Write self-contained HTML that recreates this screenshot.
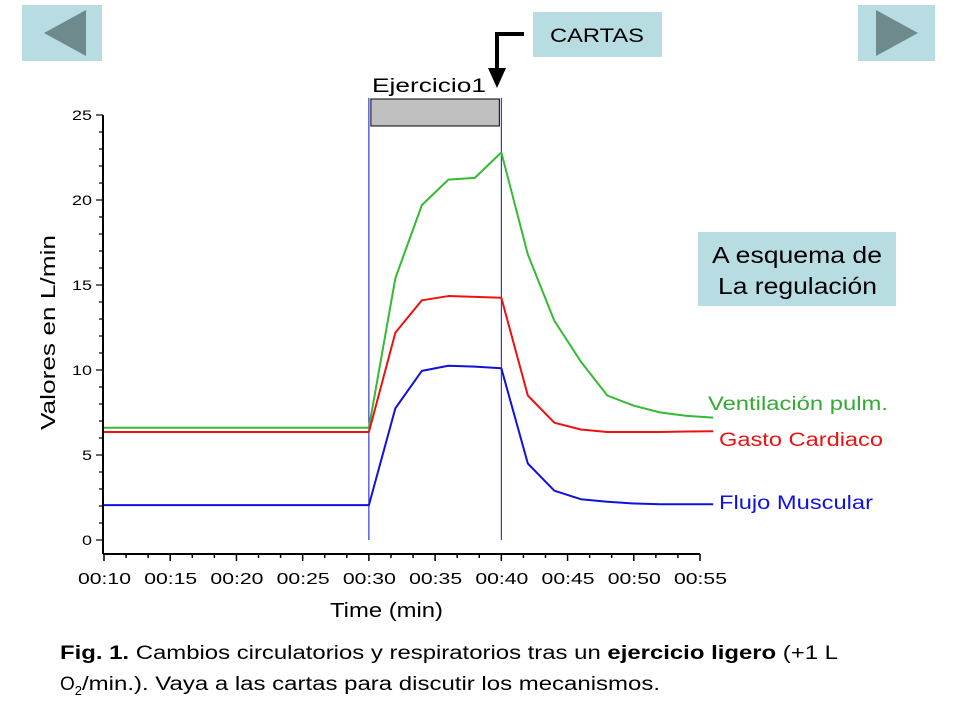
<!DOCTYPE html>
<html><head><meta charset="utf-8"><style>
body{margin:0;background:#fff;width:960px;height:720px;overflow:hidden;font-family:"Liberation Sans",sans-serif}
</style></head><body>
<svg width="960" height="720" style="position:absolute;left:0;top:0;font-family:'Liberation Sans',sans-serif">
<g><rect x="22" y="5" width="80" height="56" fill="#b7dde3"/><polygon points="44,33 86,10 86,56" fill="#6e8a8c"/></g>
<g><rect x="858" y="5" width="77" height="56" fill="#b7dde3"/><polygon points="918,33 876,10 876,56" fill="#6e8a8c"/></g>
<g><rect x="533" y="12" width="129" height="45" fill="#b7dde3"/><text x="550" y="42" font-size="19" textLength="94" lengthAdjust="spacingAndGlyphs">CARTAS</text></g>
<g><polyline points="524,34 497,34 497,74" fill="none" stroke="#000" stroke-width="4"/><polygon points="488,68 506,68 497,88" fill="#000"/></g>
<g><rect x="698" y="232" width="198" height="74" fill="#b7dde3"/><text x="712" y="263" font-size="23" textLength="170" lengthAdjust="spacingAndGlyphs">A esquema de</text><text x="718" y="294" font-size="23" textLength="159" lengthAdjust="spacingAndGlyphs">La regulación</text></g>
<g id="chart"></g>
<text x="60" y="659" font-size="19" textLength="778" lengthAdjust="spacingAndGlyphs"><tspan font-weight="bold">Fig. 1.</tspan> Cambios circulatorios  y  respiratorios  tras  un  <tspan font-weight="bold">ejercicio ligero</tspan>  (+1 L</text>
<text x="60" y="690" font-size="19">O<tspan font-size="13" dy="5">2</tspan><tspan dy="-5" textLength="578" lengthAdjust="spacingAndGlyphs">/min.). Vaya a las cartas para discutir los mecanismos.</tspan></text>
</svg>
<script>
const times=[10,30,32,34,36,38,40,42,44,46,48,50,52,54,56];
const ventilacion=[6.6,6.6,15.4,19.7,21.2,21.3,22.8,16.8,12.9,10.5,8.5,7.9,7.5,7.3,7.2];
const gasto=[6.35,6.35,12.2,14.1,14.35,14.3,14.25,8.5,6.9,6.5,6.35,6.35,6.35,6.38,6.4];
const flujo=[2.05,2.05,7.75,9.95,10.25,10.2,10.1,4.5,2.9,2.4,2.25,2.15,2.1,2.1,2.1];
const yTicks=[0,5,10,15,20,25];
const xTicks=[10,15,20,25,30,35,40,45,50,55];
const exercise=[30,40];
const NS="http://www.w3.org/2000/svg";
const g=document.getElementById('chart');
const X=t=>104+(t-10)*(596/45);
const Y=v=>540-v*17;
function el(tag,attrs,parent){const e=document.createElementNS(NS,tag);for(const k in attrs)e.setAttribute(k,attrs[k]);(parent||g).appendChild(e);return e;}
function fmt(t){return '00:'+String(t).padStart(2,'0');}
let a=el('line',{x1:103,y1:Y(25),x2:103,y2:554,stroke:'#000','stroke-width':2});


a=el('line',{x1:103,y1:554,x2:X(55),y2:554,stroke:'#000','stroke-width':2});


for(let v=0;v<=25;v++){const maj=v%5===0;el('line',{x1:maj?96:99,y1:Y(v),x2:103,y2:Y(v),stroke:'#000','stroke-width':1.2});}
yTicks.forEach(v=>{const s=String(v);const t=el('text',{x:92,y:Y(v)+5,'font-size':14,'text-anchor':'end',textLength:s.length*10,lengthAdjust:'spacingAndGlyphs'});t.textContent=s;

});
for(let m=10;m<=55;m+=5/3){const mm=Math.round(m*3)/3;const maj=Math.abs(mm-Math.round(mm/5)*5)<0.01;el('line',{x1:X(mm),y1:554,x2:X(mm),y2:maj?561:558,stroke:'#000','stroke-width':1.5});}
xTicks.forEach(v=>{const t=el('text',{x:X(v)-26,y:584,'font-size':16,textLength:53,lengthAdjust:'spacingAndGlyphs'});t.textContent=fmt(v);

});
let t=el('text',{x:330,y:617,'font-size':20,textLength:113,lengthAdjust:'spacingAndGlyphs'});t.textContent='Time (min)';


t=el('text',{x:0,y:0,'font-size':20,transform:'translate(55,430) rotate(-90)',textLength:195,lengthAdjust:'spacingAndGlyphs'});t.textContent='Valores  en  L/min';


exercise.forEach(v=>{const l=el('line',{x1:X(v),y1:98,x2:X(v),y2:540,stroke:'#1010d0','stroke-width':1});

});
let r=el('rect',{x:X(exercise[0])+2,y:99,width:X(exercise[1])-X(exercise[0])-4,height:27,fill:'#c0c0c0',stroke:'#000','stroke-width':1});


t=el('text',{x:372,y:92,'font-size':19,textLength:114,lengthAdjust:'spacingAndGlyphs'});t.textContent='Ejercicio1';


[[ventilacion,'#33bb33','ventilacion-line'],[gasto,'#ee1111','gasto-line'],[flujo,'#1111dd','flujo-line']].forEach(([d,c,n])=>{
const p=el('polyline',{points:times.map((tt,i)=>X(tt)+','+Y(d[i])).join(' '),fill:'none',stroke:c,'stroke-width':2,'stroke-linejoin':'round'});

});
[['Ventilación pulm.',708,410,180,'#33aa33','legend-ventilacion'],['Gasto Cardiaco',719,446,164,'#ee1111','legend-gasto'],['Flujo Muscular',719,509,154,'#1111dd','legend-flujo']].forEach(([s,x,y,w,c,n])=>{
const e=el('text',{x:x,y:y,'font-size':19,fill:c,textLength:w,lengthAdjust:'spacingAndGlyphs'});e.textContent=s;

});
</script>
</body></html>
